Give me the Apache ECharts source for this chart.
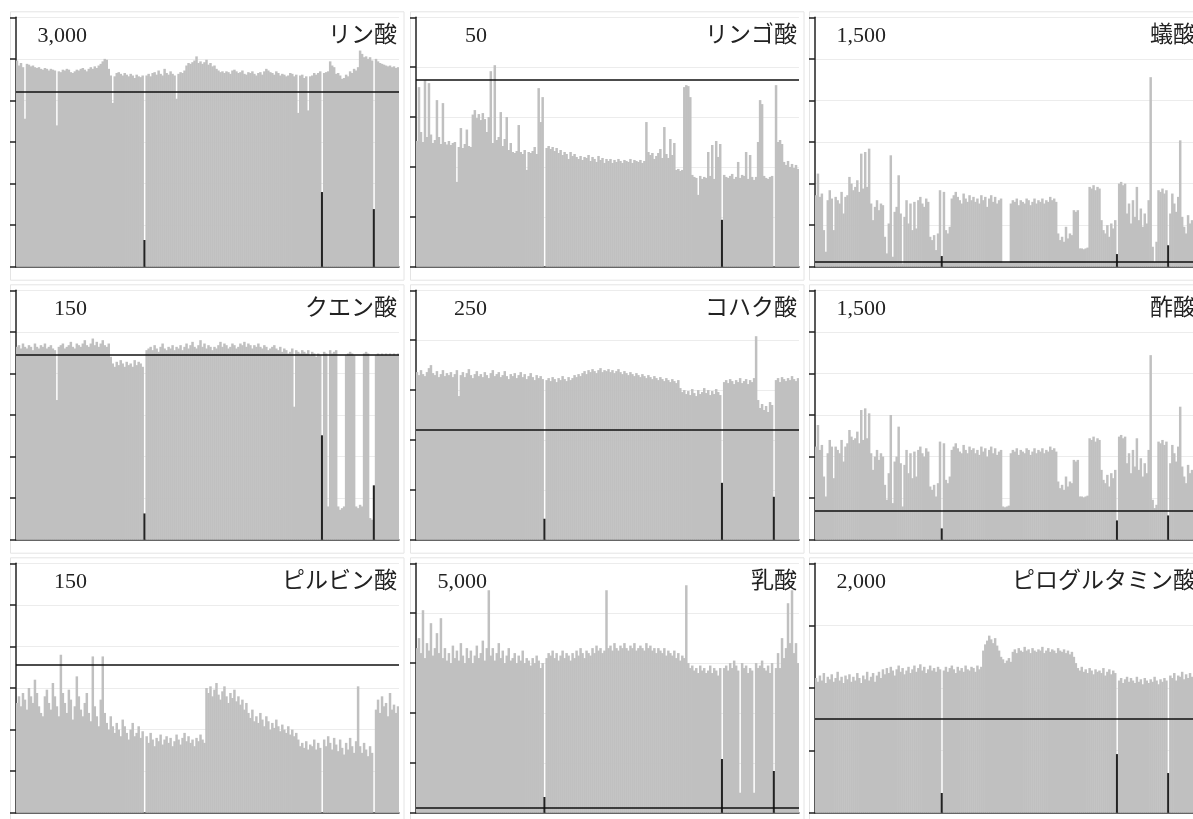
<!DOCTYPE html>
<html><head><meta charset="utf-8">
<script src="https://cdn.jsdelivr.net/npm/echarts@6/dist/echarts.min.js"></script>
<style>html,body{margin:0;padding:0;background:#fff}#c{width:1193px;height:819px}</style>
</head><body><div id="c"></div>
<script>
const names = ['リン酸','リンゴ酸','蟻酸','クエン酸','コハク酸','酢酸','ピルビン酸','乳酸','ピログルタミン酸'];
const yMax = [3000, 50, 1500, 150, 250, 1500, 150, 5000, 2000];
const yStep = [500, 10, 250, 25, 50, 250, 25, 1000, 500];
const thresholds = [2100, 37.4, 30, 111.4, 110.6, 176, 88.8, 94, 751];
const qcIndex = [64, 153, 179];

const rinsan = [
2480,2420,2450,2400,1780,2440,2430,2410,2420,2400,2390,2400,2380,2370,2390,2380,
2360,2380,2370,2360,1700,2350,2340,2370,2360,2380,2370,2340,2330,2350,2370,2360,
2380,2390,2370,2350,2380,2400,2380,2410,2390,2420,2440,2470,2500,2490,2380,2300,
1970,2290,2330,2340,2320,2300,2330,2310,2290,2320,2300,2270,2310,2290,2280,2300,
321,2300,2320,2290,2330,2340,2310,2360,2320,2300,2380,2330,2310,2350,2320,2300,
2020,2320,2340,2330,2360,2420,2450,2440,2460,2480,2530,2450,2470,2440,2460,2490,
2430,2450,2410,2420,2380,2360,2340,2350,2330,2350,2340,2320,2360,2370,2350,2330,
2340,2360,2320,2310,2340,2330,2350,2320,2300,2330,2340,2310,2350,2380,2360,2340,
2330,2310,2350,2330,2300,2320,2310,2290,2300,2330,2320,2290,2310,1850,2300,2310,
2270,2290,1880,2290,2300,2330,2310,2330,2350,898,2330,2340,2350,2470,2420,2400,
2320,2330,2300,2260,2270,2310,2290,2350,2330,2380,2360,2400,2600,2560,2520,2530,
2500,2520,2480,693,2500,2470,2450,2440,2430,2420,2410,2420,2400,2410,2390,2400];

const ringosan = [
25.2,36.0,27.0,25.0,37.4,26.0,36.8,26.5,24.8,25.4,33.4,26.0,24.6,32.8,25.0,24.5,
25.2,24.4,24.8,25.0,17.0,24.0,27.8,23.8,24.6,27.5,24.2,24.0,30.5,31.4,29.8,30.6,
29.4,30.8,29.6,27.0,30.0,39.2,24.8,40.4,25.4,26.0,31.0,24.2,25.6,30.0,23.4,24.8,
23.0,22.8,23.2,28.4,23.0,22.6,23.4,19.4,23.0,22.8,23.2,24.0,22.6,35.8,29.0,34.0,
0,23.8,24.2,23.6,24.0,23.2,23.8,22.8,23.4,22.4,23.0,22.6,21.6,23.0,22.2,22.6,
22.0,21.6,22.2,21.4,22.0,21.8,22.4,21.2,22.0,21.6,21.0,22.2,21.4,21.8,20.8,21.6,
21.2,21.6,20.8,21.4,21.0,21.6,21.2,20.8,21.4,21.2,21.0,21.6,20.8,21.4,21.2,21.0,
21.4,20.8,21.2,29.0,23.0,22.4,22.8,21.6,22.2,22.8,23.6,21.8,28.0,22.6,21.8,25.6,
22.4,24.8,19.4,19.6,19.2,19.4,36.0,36.4,36.2,34.0,18.4,18.0,17.8,14.4,18.2,17.6,
18.0,17.8,23.0,18.2,24.4,17.6,25.2,22.0,24.6,9.4,18.4,18.0,17.8,18.2,18.6,17.6,
18.0,21.0,17.8,18.4,18.2,23.0,17.6,22.4,18.0,17.4,18.0,25.0,33.4,32.6,18.2,17.8,
17.6,18.0,18.2,0,36.4,25.0,25.4,24.6,21.0,20.4,21.2,20.0,20.6,19.8,20.4,19.6];

const gisan = [
430,560,420,440,220,90,400,460,410,220,420,400,380,450,320,420,
430,540,500,460,480,520,450,680,470,690,480,710,380,280,360,400,
340,380,370,180,80,260,670,60,330,360,550,320,20,300,400,260,
380,220,390,230,400,420,380,360,410,390,180,160,190,100,200,460,
64,450,220,200,240,410,430,450,420,400,380,440,410,390,430,400,
420,390,410,380,430,400,420,360,410,430,390,420,380,400,410,25,
25,25,25,380,400,390,410,370,400,390,380,410,400,370,390,410,
380,400,390,410,380,400,390,420,400,410,390,200,160,180,150,240,
170,200,190,340,330,340,110,110,105,110,115,480,470,490,460,480,
470,280,220,200,250,180,260,230,280,76,500,510,490,500,320,380,
260,400,300,480,280,350,240,320,260,400,1140,120,30,150,460,450,
470,440,460,129,320,440,380,330,420,760,300,240,200,310,260,280];

const kuensan = [
116,117,115,118,116,115,117,116,114,118,116,115,117,116,118,115,
116,117,115,114,84,116,117,118,115,116,117,119,116,115,118,117,
116,118,120,117,116,118,121,117,119,116,118,120,117,116,118,110,
106,104,107,105,108,106,104,107,105,106,104,108,105,107,106,104,
15.8,114,115,116,114,117,115,113,116,118,115,114,116,115,117,114,
116,115,117,114,116,118,115,117,119,116,115,117,120,116,118,115,
117,116,114,116,115,117,119,116,118,117,115,116,118,117,115,116,
118,117,119,116,118,117,115,117,116,118,116,115,117,116,114,115,
116,117,115,114,116,113,115,114,112,113,115,80,114,113,112,114,
113,112,114,111,113,112,110,112,111,62.8,113,112,20,114,112,113,
114,20,18,19,20,111,112,113,112,111,20,19,21,20,112,113,
112,13,12,32.7,111,112,111,112,111,112,111,112,111,112,111,112];

const kohakusan = [
168,165,170,166,164,168,172,175,167,165,169,163,166,170,164,167,
165,168,163,166,170,144,165,168,163,167,171,165,162,166,169,164,
166,163,168,165,162,167,170,164,166,168,163,165,169,164,161,166,
164,167,162,165,168,163,166,161,164,167,163,160,165,162,164,161,
21,160,162,159,163,161,158,162,160,164,161,159,163,160,162,165,
163,166,164,167,169,166,170,168,171,169,167,170,172,168,170,169,
171,168,170,167,169,171,168,166,169,167,165,168,166,164,167,165,
163,166,164,162,165,163,161,164,162,160,163,161,159,162,160,158,
161,159,157,160,152,148,150,146,149,145,151,147,144,150,146,148,
152,147,150,145,149,146,151,148,145,57,158,160,157,161,159,156,
160,158,162,157,159,161,156,160,158,162,204,140,132,136,130,134,
128,138,135,43,160,162,158,163,161,159,162,160,164,161,159,162];

const sakusan = [
560,690,540,570,380,260,520,600,560,370,560,540,520,600,470,560,
580,660,620,600,610,650,580,780,600,790,610,760,520,420,500,540,
480,520,500,330,240,400,750,220,470,500,680,460,200,450,540,400,
520,370,530,380,540,560,520,500,550,530,320,300,330,260,340,590,
68,580,360,340,380,540,560,580,550,530,520,570,540,520,560,540,
550,520,540,510,560,530,550,500,540,560,520,550,510,530,540,200,
195,200,205,520,540,530,550,510,540,530,520,550,540,510,530,550,
520,540,530,550,520,540,530,560,540,550,530,350,310,330,300,380,
320,350,340,480,470,480,260,260,255,260,265,610,600,620,590,610,
600,420,360,340,390,320,400,370,420,116,620,630,610,620,460,520,
400,540,440,610,420,490,380,460,400,540,1110,240,190,210,590,580,
600,570,590,146,460,570,520,470,560,800,440,380,340,450,400,420];

const pirubinsan = [
66,70,64,72,68,62,75,70,66,80,72,64,60,58,70,74,
66,62,78,70,64,58,95,72,66,60,74,68,56,64,82,70,
62,58,66,72,60,55,94,64,58,52,68,94,60,54,50,58,
52,48,54,50,46,56,52,48,44,50,54,46,48,52,45,49,
0,46,42,48,44,40,45,43,47,41,44,46,42,45,40,43,
47,44,41,45,48,43,46,42,44,40,45,43,47,44,42,75,
72,76,70,74,78,71,68,73,76,70,66,72,69,74,67,70,
65,68,62,66,60,57,62,55,58,54,60,56,52,58,55,50,
54,51,56,52,49,53,50,48,52,47,50,46,48,44,40,42,
39,43,38,41,40,44,38,42,39,0,44,40,46,42,38,45,
41,37,44,39,35,42,38,45,40,36,43,76,40,36,42,38,
34,40,36,0,62,68,60,70,64,66,58,72,62,65,60,64];

const nyusan = [
3300,3500,3200,4060,3100,3400,3250,3800,3150,3300,3600,3200,3900,3100,3300,3050,
3200,3000,3350,3100,3250,3050,3400,3150,3000,3300,3100,3250,3000,3150,3350,3100,
3200,3450,3050,3300,4460,3150,3300,3050,3200,3400,3100,3250,3000,3150,3300,3050,
3100,3200,3000,3150,3050,3250,3000,3100,3050,2950,3100,3000,3150,3050,2900,3000,
315,3100,3200,3150,3250,3100,3200,3050,3150,3250,3100,3200,3150,3050,3200,3100,
3250,3150,3300,3200,3100,3250,3200,3150,3300,3200,3350,3250,3300,3200,3250,4460,
3300,3350,3250,3400,3300,3250,3350,3300,3400,3300,3250,3350,3300,3400,3250,3300,
3350,3300,3250,3400,3300,3350,3250,3300,3200,3300,3250,3200,3300,3150,3250,3200,
3150,3250,3100,3200,3050,3150,3100,4560,3000,2900,2950,2850,2900,2800,2950,2850,
2900,2800,2850,2950,2800,2900,2850,2750,2900,1077,2900,2950,2850,3000,2900,3050,
2950,2850,400,3000,2900,2950,2800,2900,2850,400,3000,2900,2950,3050,2900,2850,
2950,2800,3000,836,2900,3200,2900,3500,3100,3300,4200,3400,4460,3200,3400,3000];

const piroglu = [
1080,1050,1100,1060,1120,1040,1090,1070,1110,1050,1080,1130,1060,1090,1040,1100,
1070,1110,1050,1090,1060,1120,1080,1040,1100,1070,1130,1060,1090,1120,1050,1100,
1130,1080,1150,1110,1160,1120,1170,1140,1100,1150,1180,1130,1160,1110,1140,1170,
1120,1150,1180,1130,1160,1190,1140,1170,1120,1150,1180,1140,1160,1130,1170,1150,
158,1140,1170,1130,1160,1180,1150,1120,1170,1140,1160,1130,1180,1150,1140,1170,
1160,1130,1180,1150,1170,1300,1350,1380,1420,1390,1360,1400,1340,1300,1250,1230,
1200,1220,1240,1210,1290,1310,1280,1320,1300,1290,1330,1300,1310,1280,1320,1300,
1290,1310,1300,1330,1280,1300,1320,1290,1310,1300,1280,1320,1300,1290,1310,1280,
1300,1270,1290,1250,1200,1160,1140,1170,1130,1150,1120,1160,1140,1110,1150,1130,
1140,1120,1160,1100,1130,1150,1110,1140,1120,470,1060,1080,1040,1070,1090,1050,
1080,1060,1040,1090,1050,1070,1030,1080,1060,1040,1070,1050,1090,1060,1030,1070,
1050,1080,1060,318,1100,1080,1120,1060,1100,1090,1130,1070,1110,1080,1120,1090];

const panels = [rinsan, ringosan, gisan, kuensan, kohakusan, sakusan, pirubinsan, nyusan, piroglu];

const colLeft = [16, 416, 815], rowTop = [17.3, 290.3, 563.3], W = 383, H = 249.4;
const grid = [], xAxis = [], yAxis = [], series = [], graphic = [];
const font = "'Liberation Serif', 'Noto Sans CJK JP', serif";
const bad = [];
panels.forEach((vals, k) => {
  if (vals.length !== 192) bad.push(names[k] + ':' + vals.length);
  const c = k % 3, r = Math.floor(k / 3);
  const L = colLeft[c], T = rowTop[r];
  grid.push({left: L, top: T, width: W, height: H, containLabel: false});
  xAxis.push({type: 'category', gridIndex: k, data: vals.map((v, i) => i), boundaryGap: true,
    axisLine: {show: true, lineStyle: {color: '#333', width: 1.5}}, axisTick: {show: false}, axisLabel: {show: false}, splitLine: {show: false}});
  yAxis.push({type: 'value', gridIndex: k, min: 0, max: yMax[k], interval: yStep[k],
    axisLine: {show: true, lineStyle: {color: '#222', width: 1.5}},
    axisTick: {show: true, length: 6, lineStyle: {color: '#222', width: 1.5}},
    axisLabel: {show: false},
    splitLine: {show: true, lineStyle: {color: '#ececec', width: 1}}});
  series.push({type: 'bar', xAxisIndex: k, yAxisIndex: k, barWidth: 2.5,
    itemStyle: {color: '#c0c0c0'}, silent: true,
    data: vals.map((v, i) => qcIndex.includes(i) ? {value: v, itemStyle: {color: '#222'}} : v),
    markLine: {silent: true, symbol: 'none', label: {show: false},
      lineStyle: {color: '#111', width: 1.5, type: 'solid'},
      data: [{yAxis: thresholds[k]}]}});
  graphic.push({type: 'rect', silent: true, z: -1,
    shape: {x: L - 5.5, y: T - 5.5, width: W + 10.5, height: H + 19},
    style: {fill: 'none', stroke: '#e4e4e4', lineWidth: 1}});
  graphic.push({type: 'text', silent: true, x: L + 71, y: T + 19,
    style: {text: yMax[k].toLocaleString('en-US'), align: 'right', verticalAlign: 'middle', font: '22px ' + font, fill: '#222'}});
  graphic.push({type: 'text', silent: true, x: L + 381, y: T + 19,
    style: {text: names[k], align: 'right', verticalAlign: 'middle', font: '23px ' + font, fill: '#222'}});
});

const chart = echarts.init(document.getElementById('c'), null, {renderer: 'canvas'});
chart.setOption({animation: false, backgroundColor: '#fff', grid, xAxis, yAxis, series, graphic});
if (bad.length) throw new Error('bad lengths ' + bad.join(','));
</script></body></html>
